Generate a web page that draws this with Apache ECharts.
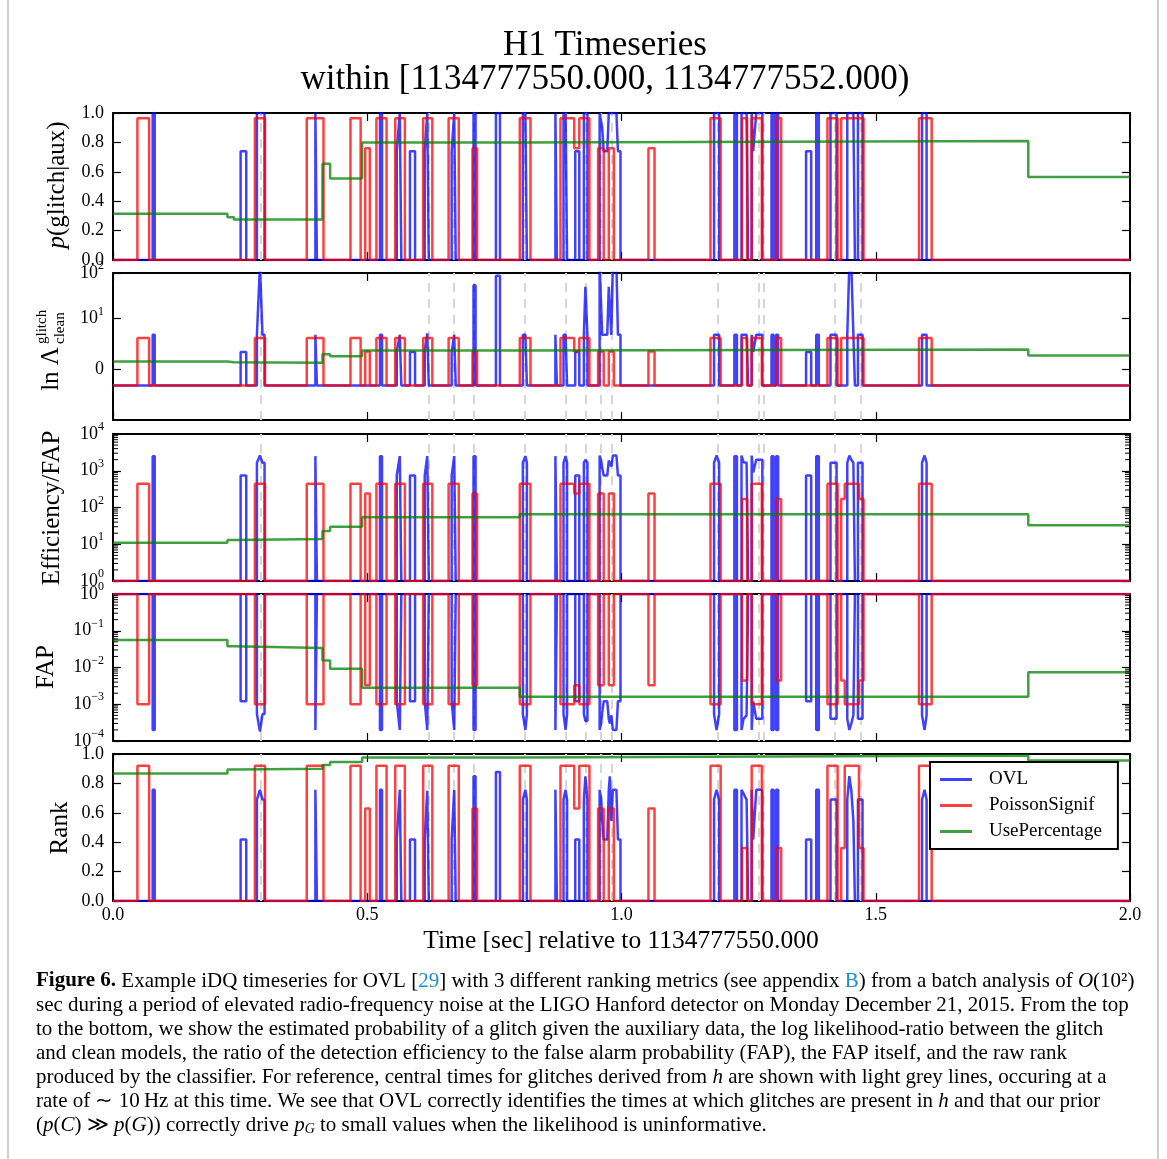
<!DOCTYPE html>
<html>
<head>
<meta charset="utf-8">
<title>H1 Timeseries</title>
<script src="https://cdn.jsdelivr.net/npm/echarts@6/dist/echarts.min.js"></script>
<style>
  html, body { margin: 0; padding: 0; background: #fff; }
  #main { width: 1167px; height: 1159px; }
</style>
</head>
<body>
<div id="main"></div>
<script>
// ---- values (time in sec relative to 1134777550) ----

// central glitch times (light grey dashed lines)
const glitchTimes = [0.289, 0.617, 0.671, 0.712, 0.810, 0.891, 0.928, 0.960, 0.985,
  1.186, 1.266, 1.276, 1.418, 1.471];

// UsePercentage: piecewise constant between these breakpoints
const greenT = [0, 0.225, 0.238, 0.412, 0.427, 0.490, 0.800, 1.800, 2.0];
const greenP    = [0.315, 0.29, 0.275, 0.655, 0.555, 0.80, 0.81, 0.565];
const greenLn   = [1.56, 1.40, 1.30, 2.98, 2.57, 3.7, 3.9, 2.7];
const greenEff  = [11, 13, 14, 23, 30, 54, 66, 33];
const greenFap  = [0.056, 0.038, 0.034, 0.0154, 0.0092, 0.0028, 0.0016, 0.0074];
const greenRank = [0.867, 0.895, 0.90, 0.925, 0.945, 0.977, 0.989, 0.955];

// PoissonSignif: rectangular pulses
const redStart = [0.048, 0.279, 0.381, 0.467, 0.496, 0.518, 0.555, 0.610, 0.660, 0.707,
  0.800, 0.880, 0.907, 0.917, 0.954, 0.975, 1.053, 1.175, 1.237, 1.256,
  1.304, 1.405, 1.432, 1.439, 1.467, 1.585];
const redEnd = [0.071, 0.299, 0.414, 0.487, 0.505, 0.538, 0.574, 0.628, 0.680, 0.716,
  0.821, 0.907, 0.917, 0.937, 0.965, 0.985, 1.065, 1.195, 1.247, 1.276,
  1.314, 1.425, 1.439, 1.467, 1.476, 1.610];
const redP = [0.965, 0.965, 0.965, 0.965, 0.76, 0.965, 0.965, 0.965, 0.965, 0.76,
  0.965, 0.965, 0.76, 0.965, 0.76, 0.76, 0.76, 0.965, 0.965, 0.965,
  0.965, 0.965, 0.965, 0.965, 0.965, 0.965];
const redLn = [6.2, 6.2, 6.2, 6.2, 3.5, 6.2, 6.2, 6.2, 6.2, 3.5,
  6.2, 6.2, 3.5, 6.2, 3.5, 3.5, 3.5, 6.2, 6.2, 6.2,
  6.2, 6.2, 6.2, 6.2, 6.2, 6.2];
const redEff = [440, 440, 440, 440, 240, 440, 440, 440, 440, 240,
  440, 440, 240, 440, 240, 240, 240, 440, 170, 440,
  170, 440, 170, 440, 170, 440];
const redFap = [1.0e-3, 1.0e-3, 1.0e-3, 1.0e-3, 3.3e-3, 1.0e-3, 1.0e-3, 1.0e-3, 1.0e-3, 3.3e-3,
  1.0e-3, 1.0e-3, 3.3e-3, 1.0e-3, 3.3e-3, 3.3e-3, 3.3e-3, 1.0e-3, 4.4e-3, 1.0e-3,
  4.4e-3, 1.0e-3, 4.4e-3, 1.0e-3, 4.4e-3, 1.0e-3];
const redRank = [0.92, 0.92, 0.92, 0.92, 0.63, 0.92, 0.92, 0.92, 0.92, 0.63,
  0.92, 0.92, 0.63, 0.92, 0.63, 0.63, 0.63, 0.92, 0.36, 0.92,
  0.36, 0.92, 0.36, 0.92, 0.36, 0.92];

// OVL: blips, each a list of times with one level per panel
const blueT = [
  [0.078, 0.082], [0.251, 0.262], [0.283, 0.289, 0.291, 0.294, 0.298], [0.398, 0.401],
  [0.525, 0.529], [0.558, 0.561, 0.564, 0.567], [0.584, 0.594], [0.613, 0.616, 0.618, 0.621],
  [0.666, 0.669, 0.671, 0.674], [0.709, 0.713], [0.753, 0.761], [0.806, 0.811, 0.814],
  [0.870, 0.873], [0.886, 0.890, 0.893], [0.909, 0.917], [0.926, 0.929, 0.933],
  [0.957, 0.960, 0.962, 0.965, 0.972, 0.975, 0.977, 0.980, 0.983, 0.990, 0.993, 0.998],
  [1.182, 1.187, 1.192], [1.222, 1.227], [1.236, 1.240, 1.246, 1.249],
  [1.256, 1.259, 1.261, 1.265, 1.267, 1.277], [1.295, 1.299], [1.304, 1.308],
  [1.363, 1.373], [1.383, 1.388], [1.411, 1.423], [1.444, 1.448, 1.452, 1.456, 1.459],
  [1.465, 1.474], [1.591, 1.596, 1.600]
];
const blueP = [
  [1, 1], [0.74, 0.74], [1, 1, 1, 1, 1], [1, 1],
  [1, 1], [0.74, 0.74, 1, 1], [0.74, 0.74], [0.74, 0.74, 1, 1],
  [0.74, 0.74, 1, 1], [1, 1], [1, 1], [1, 1, 1],
  [1, 1], [1, 1, 1], [0.74, 0.74], [1, 1, 1],
  [1, 1, 0.9, 0.74, 0.74, 1, 1, 1, 1, 1, 0.74, 0.74],
  [1, 1, 1], [1, 1], [1, 1, 1, 1],
  [1, 0.74, 0.74, 1, 1, 1], [1, 1], [1, 1],
  [0.74, 0.74], [1, 1], [1, 1], [1, 1, 1, 1, 1],
  [1, 1], [1, 1, 1]
];
const blueLn = [
  [6.8, 6.8], [3.4, 3.4], [6.8, 150, 150, 6.8, 6.8], [6.8, 6.8],
  [6.8, 6.8], [3.4, 3.4, 6.8, 6.8], [3.4, 3.4], [3.6, 3.6, 7.1, 7.1],
  [3.4, 3.4, 6.8, 6.8], [54, 54], [87, 87], [6.8, 6.8, 6.8],
  [6.8, 6.8], [6.8, 6.8, 6.8], [3.4, 3.4], [6.8, 50, 6.8],
  [150, 150, 6.8, 6.8, 6.8, 50, 50, 6.8, 150, 150, 6.8, 6.8],
  [6.8, 6.8, 6.8], [6.8, 6.8], [6.8, 6.8, 6.8, 6.8],
  [6.8, 3.4, 3.4, 6.8, 6.8, 6.8], [6.8, 6.8], [6.8, 6.8],
  [3.4, 3.4], [6.8, 6.8], [6.8, 6.8], [6.8, 150, 150, 6.8, 6.8],
  [6.8, 6.8], [6.8, 6.8, 6.8]
];
const blueEff = [
  [2500, 2500], [740, 740], [1650, 2600, 2600, 1650, 1650], [2500, 2500],
  [2500, 2500], [740, 740, 2500, 2500], [740, 740], [740, 740, 2500, 2500],
  [740, 740, 2500, 2500], [2500, 2500], [1, 1], [1650, 2500, 1650],
  [2500, 2500], [1650, 2500, 1650], [740, 740], [1650, 2000, 1650],
  [2600, 1900, 1200, 740, 740, 1900, 2100, 1300, 2600, 2600, 740, 740],
  [1650, 2600, 1650], [2500, 2500], [2600, 1700, 1650, 1650],
  [2600, 900, 900, 2000, 2000, 2000], [2500, 2500], [2500, 2500],
  [740, 740], [2500, 2500], [1650, 1650], [1650, 2600, 2000, 1650, 1650],
  [1650, 1650], [1650, 2600, 1650]
];
const blueFap = [
  [2e-4, 2e-4], [1.2e-3, 1.2e-3], [5.4e-4, 1.8e-4, 1.8e-4, 5.4e-4, 5.4e-4], [2e-4, 2e-4],
  [2e-4, 2e-4], [1.2e-3, 1.2e-3, 2e-4, 2e-4], [1.2e-3, 1.2e-3], [1.2e-3, 1.2e-3, 2e-4, 2e-4],
  [1.2e-3, 1.2e-3, 2e-4, 2e-4], [2e-4, 2e-4], [1, 1], [5.4e-4, 2e-4, 5.4e-4],
  [2e-4, 2e-4], [5.4e-4, 2e-4, 5.4e-4], [1.2e-3, 1.2e-3], [5.4e-4, 3.5e-4, 3.5e-4],
  [2e-4, 3e-4, 6e-4, 1.2e-3, 1.2e-3, 4e-4, 3e-4, 5e-4, 2e-4, 2e-4, 1.2e-3, 1.2e-3],
  [5.4e-4, 2e-4, 5.4e-4], [2e-4, 2e-4], [2e-4, 4e-4, 5e-4, 5e-4],
  [2e-4, 1.2e-3, 1.2e-3, 4e-4, 4e-4, 4e-4], [2e-4, 2e-4], [2e-4, 2e-4],
  [1.2e-3, 1.2e-3], [2e-4, 2e-4], [4e-4, 4e-4], [4e-4, 2e-4, 3e-4, 5e-4, 5e-4],
  [4e-4, 4e-4], [5e-4, 2e-4, 5e-4]
];
const blueRank = [
  [0.756, 0.756], [0.418, 0.418], [0.69, 0.756, 0.756, 0.69, 0.69], [0.756, 0.756],
  [0.756, 0.756], [0.418, 0.418, 0.756, 0.756], [0.418, 0.418], [0.418, 0.418, 0.75, 0.75],
  [0.418, 0.418, 0.756, 0.756], [0.848, 0.848], [0.878, 0.878], [0.69, 0.756, 0.69],
  [0.756, 0.756], [0.69, 0.756, 0.69], [0.418, 0.418], [0.69, 0.848, 0.69],
  [0.756, 0.70, 0.545, 0.418, 0.418, 0.756, 0.848, 0.545, 0.756, 0.756, 0.418, 0.418],
  [0.69, 0.756, 0.69], [0.756, 0.756], [0.756, 0.73, 0.69, 0.69],
  [0.756, 0.418, 0.418, 0.756, 0.756, 0.756], [0.756, 0.756], [0.756, 0.756],
  [0.418, 0.418], [0.756, 0.756], [0.69, 0.69], [0.69, 0.85, 0.75, 0.545, 0.545],
  [0.69, 0.69], [0.69, 0.756, 0.69]
];

// level both classifiers sit at when nothing is flagged, per panel
const baseLevel = [0, -3.2, 1, 1, 0];

// ---- layout ----
const FONT = 'Liberation Serif';
const GRID_LEFT = 113, GRID_W = 1017, GRID_H = 147;
const gridTops = [113, 273, 434, 594, 754];

// symlog axis (linthresh 10) for the ln Lambda panel
const LIN = 1 / (1 - 1 / 10);
function symlog(y) {
  const a = Math.abs(y);
  if (a <= 10) return y / 10 * LIN;
  return Math.sign(y) * (LIN + Math.log10(a / 10));
}

function stepPath(ts, vs) {
  const pts = [];
  for (let i = 0; i < vs.length; i++) pts.push([ts[i], vs[i]], [ts[i + 1], vs[i]]);
  return pts;
}
function pulsePath(starts, ends, vals, base) {
  const pts = [[0, base]];
  for (let i = 0; i < starts.length; i++) {
    const joinPrev = i > 0 && Math.abs(starts[i] - ends[i - 1]) < 1e-9;
    const joinNext = i < starts.length - 1 && Math.abs(starts[i + 1] - ends[i]) < 1e-9;
    if (!joinPrev) pts.push([starts[i], base]);
    pts.push([starts[i], vals[i]], [ends[i], vals[i]]);
    if (!joinNext) pts.push([ends[i], base]);
  }
  pts.push([2, base]);
  return pts;
}
function blipPath(times, vals, base) {
  const pts = [[0, base]];
  times.forEach((ts, k) => {
    pts.push([ts[0], base]);
    ts.forEach((t, j) => pts.push([t, vals[k][j]]));
    pts.push([ts[ts.length - 1], base]);
  });
  pts.push([2, base]);
  return pts;
}

const blueSets = [blueP, blueLn, blueEff, blueFap, blueRank];
const redSets = [redP, redLn, redEff, redFap, redRank];
const greenSets = [greenP, greenLn, greenEff, greenFap, greenRank];

function expLabel(e) {
  return '10{e|' + (e < 0 ? '\u2212' + (-e) : e) + '}';
}
const labelRich = { e: { fontSize: 12, fontFamily: FONT, color: '#000', padding: [0, 0, 14, 0] } };

function yAxisFor(i, right) {
  const ax = {
    gridIndex: i,
    position: right ? 'right' : 'left',
    axisLine: { show: true, onZero: false, lineStyle: { color: '#000', width: 2 } },
    axisTick: { show: true, inside: true, length: 8, lineStyle: { color: '#000', width: 1.2 } },
    splitLine: { show: false },
    axisLabel: { show: !right, color: '#000', fontFamily: FONT, fontSize: 18, margin: 9, rich: labelRich }
  };
  if (i === 0 || i === 4) {
    Object.assign(ax, { type: 'value', min: 0, max: 1, interval: 0.2 });
    ax.axisLabel.formatter = v => v.toFixed(1);
  } else if (i === 1) {
    Object.assign(ax, { type: 'value', min: -LIN, max: LIN + 1 });
    ax.axisTick.customValues = [0, LIN, LIN + 1];
    ax.axisLabel.customValues = [0, LIN, LIN + 1];
    ax.axisLabel.formatter = v => Math.abs(v) < 1e-6 ? '0' : expLabel(Math.round(v - LIN + 1));
  } else if (i === 2) {
    Object.assign(ax, { type: 'log', logBase: 10, min: 1, max: 10000 });
    ax.axisLabel.formatter = v => expLabel(Math.round(Math.log10(v)));
  } else {
    Object.assign(ax, { type: 'log', logBase: 10, min: 1e-4, max: 1 });
    ax.axisLabel.formatter = v => expLabel(Math.round(Math.log10(v)));
  }
  return ax;
}

function xAxisFor(i, top) {
  return {
    type: 'value', gridIndex: i, min: 0, max: 2, interval: 0.5,
    position: top ? 'top' : 'bottom',
    axisLine: { show: true, onZero: false, lineStyle: { color: '#000', width: 2 } },
    axisTick: { show: true, inside: true, length: 8, lineStyle: { color: '#000', width: 1.2 } },
    splitLine: { show: false },
    axisLabel: { show: i === 4 && !top, color: '#000', fontFamily: FONT, fontSize: 18, margin: 5,
      formatter: v => v.toFixed(1) }
  };
}

function minorTicks(lo, hi) {
  const out = [];
  for (let e = lo; e < hi; e++) for (let m = 2; m <= 9; m++) out.push([0, m * Math.pow(10, e)]);
  return out;
}

const grids = [], xAxes = [], yAxes = [], series = [];
for (let i = 0; i < 5; i++) {
  grids.push({ left: GRID_LEFT, top: gridTops[i], width: GRID_W, height: GRID_H, outerBoundsMode: 'none' });
  xAxes.push(xAxisFor(i, false), xAxisFor(i, true));
  yAxes.push(yAxisFor(i, false), yAxisFor(i, true));
  const tf = i === 1 ? (p => [p[0], symlog(p[1])]) : (p => p);
  const base = baseLevel[i];
  const common = { xAxisIndex: 2 * i, yAxisIndex: 2 * i, showSymbol: false, symbol: 'none',
    animation: false, silent: true, z: 2 };

  // glitch times
  series.push(Object.assign({}, common, {
    type: 'line', data: [[0, i === 1 ? symlog(base) : base]], lineStyle: { width: 0 }, z: 1,
    markLine: {
      silent: true, animation: false, z: 1, symbol: ['none', 'none'], label: { show: false },
      lineStyle: { color: '#d6d6d6', width: 2, type: [9, 7] },
      data: glitchTimes.map(t => ({ xAxis: t }))
    }
  }));
  series.push(Object.assign({}, common, {
    name: 'OVL', type: 'line',
    data: blipPath(blueT, blueSets[i], base).map(tf),
    lineStyle: { color: '#0000ff', width: 2.5, opacity: 0.75 }, itemStyle: { color: '#0000ff' }
  }));
  series.push(Object.assign({}, common, {
    name: 'PoissonSignif', type: 'line',
    data: pulsePath(redStart, redEnd, redSets[i], base).map(tf),
    lineStyle: { color: '#ff0000', width: 2.5, opacity: 0.75 }, itemStyle: { color: '#ff0000' }
  }));
  series.push(Object.assign({}, common, {
    name: 'UsePercentage', type: 'line',
    data: stepPath(greenT, greenSets[i]).map(tf),
    lineStyle: { color: '#008000', width: 2.5, opacity: 0.75 }, itemStyle: { color: '#008000' }
  }));
  if (i === 2 || i === 3) {
    series.push({
      type: 'custom', xAxisIndex: 2 * i, yAxisIndex: 2 * i, silent: true, z: 3, animation: false,
      data: i === 2 ? minorTicks(0, 4) : minorTicks(-4, 0),
      renderItem: (params, api) => {
        const y = api.coord([0, api.value(1)])[1];
        const cs = params.coordSys;
        const st = { stroke: '#000', lineWidth: 1 };
        return { type: 'group', children: [
          { type: 'line', shape: { x1: cs.x, y1: y, x2: cs.x + 5, y2: y }, style: st },
          { type: 'line', shape: { x1: cs.x + cs.width - 5, y1: y, x2: cs.x + cs.width, y2: y }, style: st }
        ] };
      }
    });
  }
}

function txt(x, y, text, size, extra) {
  return Object.assign({
    type: 'text', x: x, y: y, silent: true,
    style: Object.assign({ text: text, fill: '#000', fontFamily: FONT, fontSize: size,
      align: 'center', verticalAlign: 'middle', textAlign: 'center', textVerticalAlign: 'middle' },
      extra || {})
  });
}
function vtxt(x, y, text, size, rich) {
  const t = txt(x, y, text, size, rich ? { rich: rich } : null);
  t.rotation = Math.PI / 2;
  return t;
}
const ital = { fontStyle: 'italic', fontFamily: FONT, fontSize: 25, fill: '#000' };

const captionLines = [
  '{b|Figure 6.} Example iDQ timeseries for OVL [{c|29}] with 3 different ranking metrics (see appendix {c|B}) from a batch analysis of {i|O}(10\u00b2)',
  'sec during a period of elevated radio-frequency noise at the LIGO Hanford detector on Monday December 21, 2015. From the top',
  'to the bottom, we show the estimated probability of a glitch given the auxiliary data, the log likelihood-ratio between the glitch',
  'and clean models, the ratio of the detection efficiency to the false alarm probability (FAP), the FAP itself, and the raw rank',
  'produced by the classifier. For reference, central times for glitches derived from {i|h} are shown with light grey lines, occuring at a',
  'rate of \u223c 10\u2009Hz at this time. We see that OVL correctly identifies the times at which glitches are present in {i|h} and that our prior',
  '({i|p}({i|C}) \u226b {i|p}({i|G})) correctly drive {i|p}{s|G} to small values when the likelihood is uninformative.'
];
const CAP = 21;
const capRich = {
  b: { fontWeight: 'bold', fontFamily: FONT, fontSize: CAP, fill: '#000' },
  c: { fontFamily: FONT, fontSize: CAP, fill: '#1b8fd2' },
  i: { fontStyle: 'italic', fontFamily: FONT, fontSize: CAP, fill: '#000' },
  s: { fontStyle: 'italic', fontFamily: FONT, fontSize: 14, fill: '#000', padding: [9, 0, 0, 0] }
};

const graphics = [
  { type: 'line', silent: true, shape: { x1: 8, y1: 0, x2: 8, y2: 1159 }, style: { stroke: '#cfcfcf', lineWidth: 2 } },
  { type: 'line', silent: true, shape: { x1: 1158, y1: 0, x2: 1158, y2: 1159 }, style: { stroke: '#cfcfcf', lineWidth: 2 } },
  txt(605, 46, 'H1 Timeseries', 35),
  txt(605, 80, 'within [1134777550.000, 1134777552.000)', 35),
  vtxt(57, 185, '{i|p}(glitch|aux)', 25, { i: ital }),
  {
    type: 'group', x: 51, y: 345, rotation: Math.PI / 2, silent: true,
    children: [
      txt(-2, 0, 'ln \u039b', 25, { align: 'right', textAlign: 'right' }),
      txt(1, -9, 'glitch', 15, { align: 'left', textAlign: 'left' }),
      txt(1, 9, 'clean', 15, { align: 'left', textAlign: 'left' })
    ]
  },
  vtxt(52, 508, 'Efficiency/FAP', 25),
  vtxt(46, 667, 'FAP', 25),
  vtxt(60, 828, 'Rank', 25),
  txt(621, 941, 'Time [sec] relative to 1134777550.000', 25.5)
];
captionLines.forEach((line, k) => {
  graphics.push(txt(36, 981 + k * 24, line, CAP,
    { align: 'left', textAlign: 'left', rich: capRich }));
});

const legendColors = ['rgba(0,0,255,0.75)', 'rgba(255,0,0,0.75)', 'rgba(0,128,0,0.75)'];

const option = {
  animation: false,
  backgroundColor: '#fff',
  textStyle: { fontFamily: FONT },
  grid: grids,
  xAxis: xAxes,
  yAxis: yAxes,
  legend: {
    data: ['OVL', 'PoissonSignif', 'UsePercentage'].map((n, k) => ({
      name: n, icon: 'rect', itemStyle: { color: legendColors[k], borderWidth: 0 }
    })),
    orient: 'vertical', left: 930, top: 762,
    padding: [8, 16, 8, 10], itemGap: 7, itemWidth: 32, itemHeight: 3,
    backgroundColor: '#fff', borderColor: '#000', borderWidth: 2, borderRadius: 0,
    selectedMode: false,
    textStyle: { fontFamily: FONT, fontSize: 19, color: '#000', padding: [0, 0, 0, 12] }
  },
  series: series,
  graphic: graphics
};

const myChart = echarts.init(document.getElementById('main'));
myChart.setOption(option);
window.onresize = () => myChart.resize();
</script>
</body>
</html>
